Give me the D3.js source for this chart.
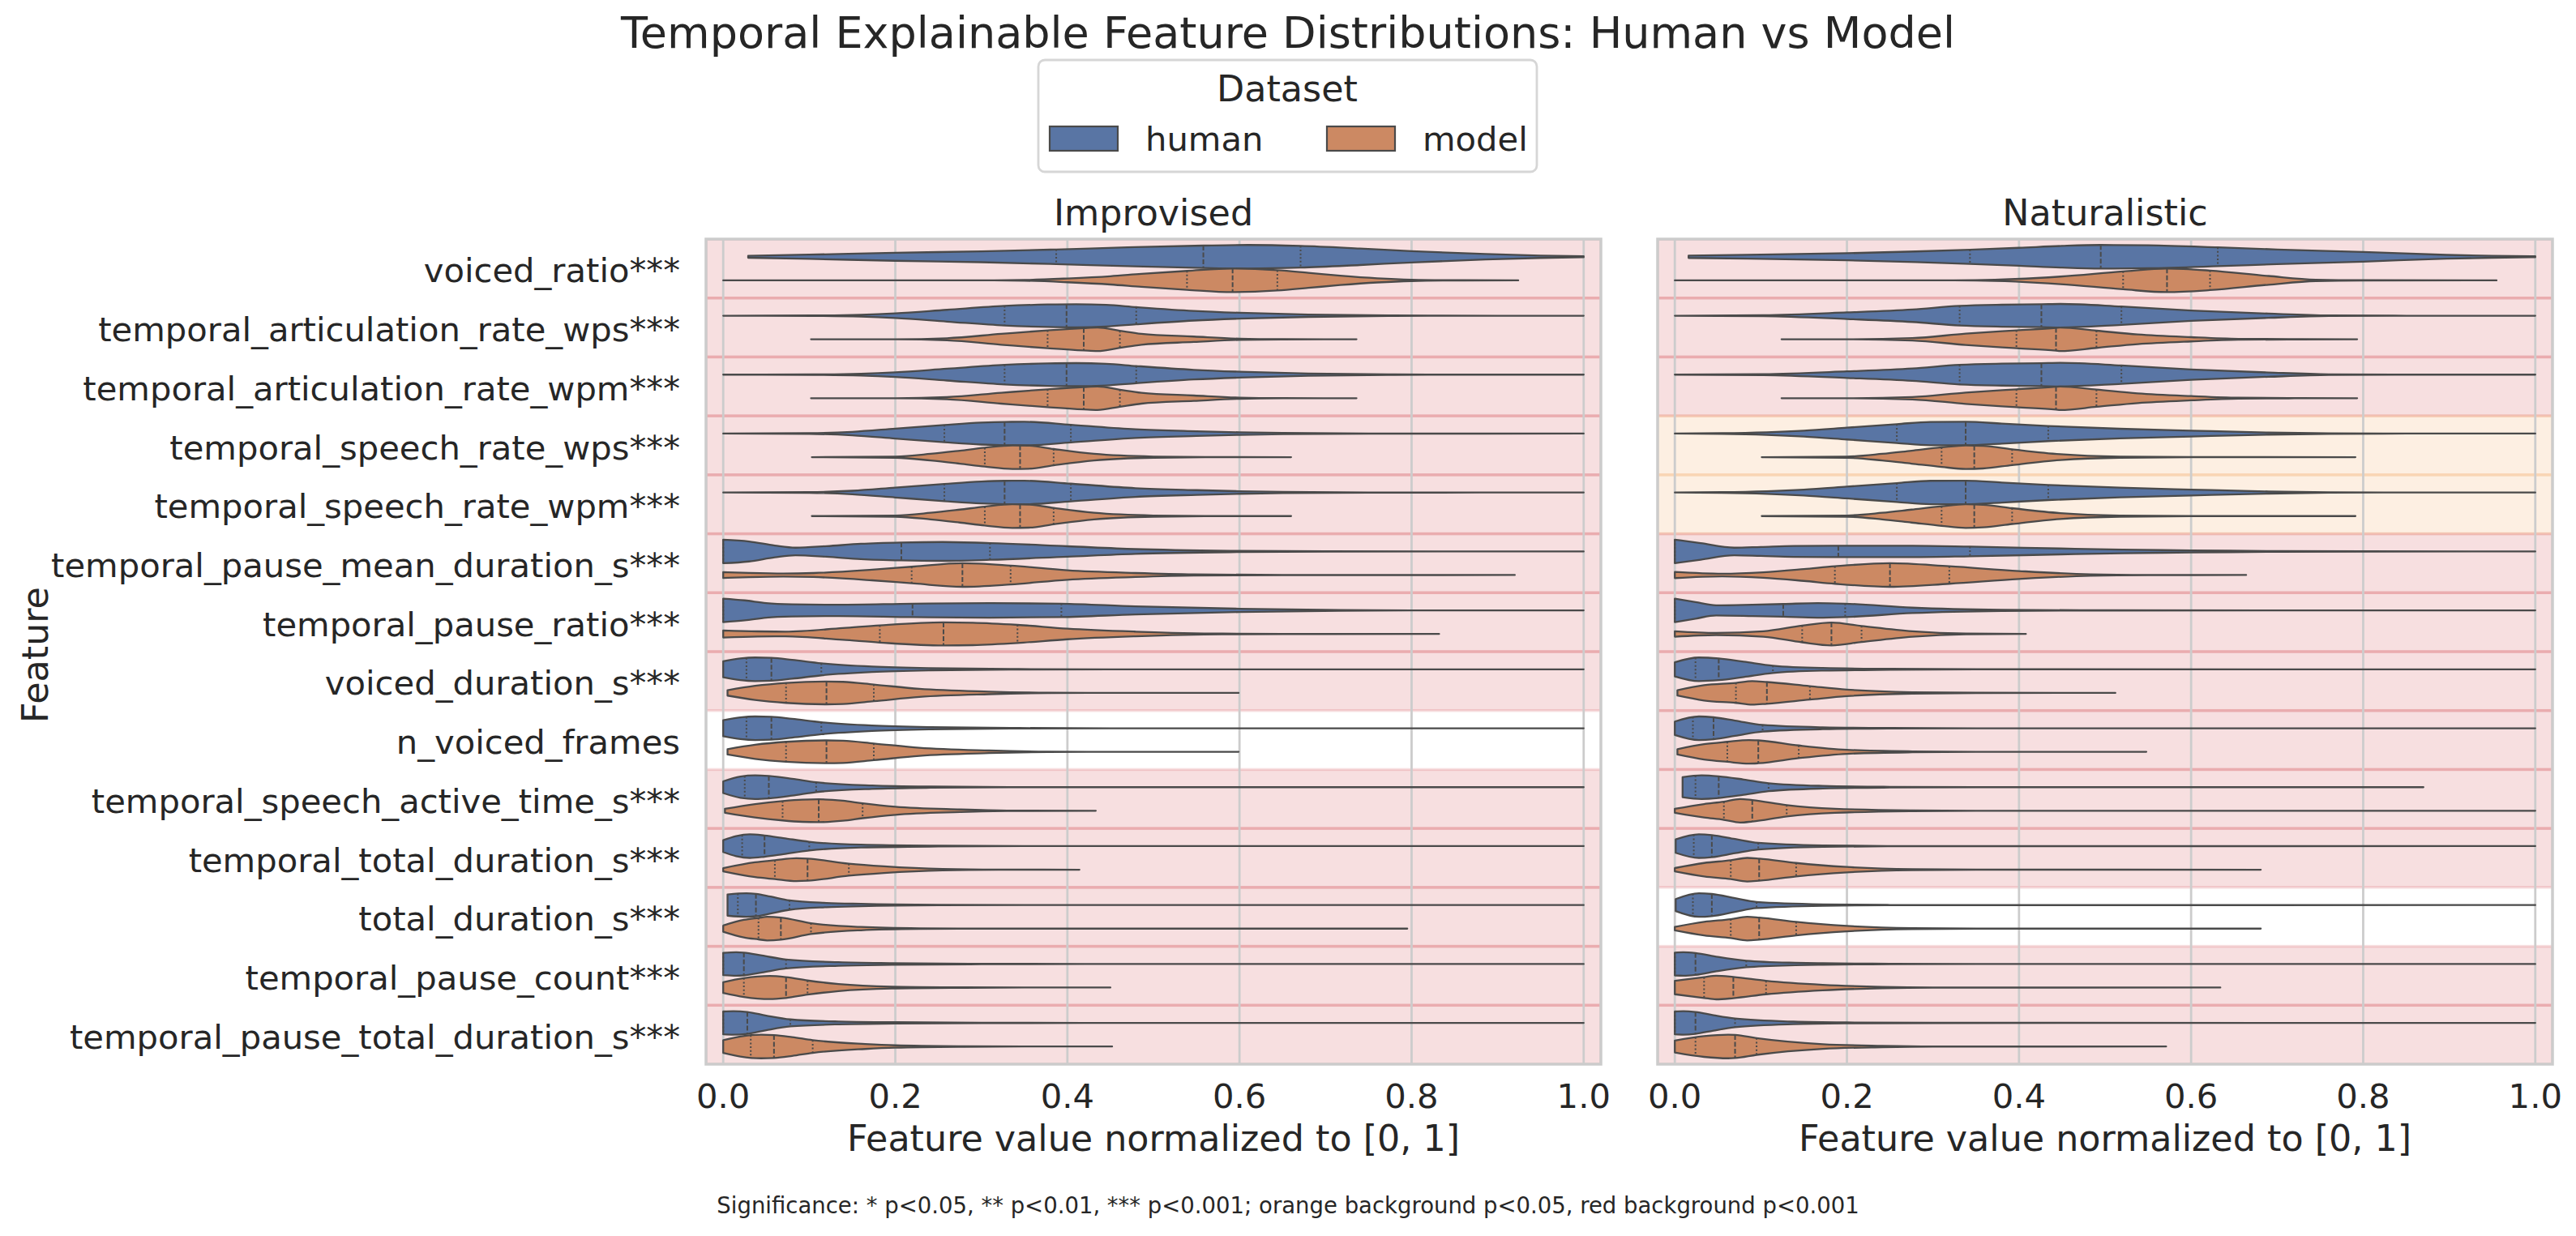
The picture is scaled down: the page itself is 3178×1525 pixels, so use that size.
<!DOCTYPE html>
<html>
<head>
<meta charset="utf-8">
<script src="https://cdn.jsdelivr.net/npm/d3@7"></script>
<style>
  body { margin: 0; background: #fff; }
  svg { display: block; font-family: "DejaVu Sans", sans-serif; }
</style>
</head>
<body>
<div id="chart"></div>
<script>
// ---- data ----
var features = ["voiced_ratio***", "temporal_articulation_rate_wps***", "temporal_articulation_rate_wpm***",
    "temporal_speech_rate_wps***", "temporal_speech_rate_wpm***", "temporal_pause_mean_duration_s***",
    "temporal_pause_ratio***", "voiced_duration_s***", "n_voiced_frames", "temporal_speech_active_time_s***",
    "temporal_total_duration_s***", "total_duration_s***", "temporal_pause_count***", "temporal_pause_total_duration_s***"];
var panelNames = ["Improvised", "Naturalistic"];
var datasets = ["human", "model"];
var xTicks = [0, 0.2, 0.4, 0.6, 0.8, 1.0];
// background significance level per feature: "red" p<0.001, "orange" p<0.05, "none"
var sigImprovised = ["red", "red", "red", "red", "red", "red", "red", "red", "none", "red", "red", "red", "red", "red"];
var sigNaturalistic = ["red", "red", "red", "orange", "orange", "red", "red", "red", "red", "red", "red", "none", "red", "red"];

// violin outlines: [value, relative density width] from min to max; quartiles [q1, median, q3]
var impHumanShape = [
    [[0.029,0.08],[0.1,0.18],[0.2,0.34],[0.3,0.46],[0.387,0.62],[0.47,0.8],[0.558,0.95],[0.61,1.0],[0.671,0.92],[0.74,0.7],[0.8,0.48],[0.886,0.23],[0.95,0.1],[1.0,0.04]],
    [[0,0],[0.105,0.02],[0.16,0.08],[0.2,0.2],[0.26,0.5],[0.327,0.83],[0.377,0.95],[0.41,0.98],[0.445,0.92],[0.48,0.73],[0.547,0.41],[0.6,0.25],[0.68,0.1],[0.78,0.02],[0.9,0],[1.0,0]],
    [[0,0],[0.105,0.02],[0.16,0.08],[0.2,0.2],[0.26,0.5],[0.327,0.83],[0.377,0.95],[0.41,0.98],[0.445,0.92],[0.48,0.73],[0.547,0.41],[0.6,0.25],[0.68,0.1],[0.78,0.02],[0.9,0],[1.0,0]],
    [[0,0],[0.1,0.03],[0.15,0.15],[0.2,0.42],[0.257,0.73],[0.3,0.93],[0.327,0.99],[0.35,1.0],[0.404,0.75],[0.479,0.37],[0.55,0.2],[0.6,0.11],[0.65,0.05],[0.75,0.01],[1.0,0]],
    [[0,0],[0.1,0.03],[0.15,0.15],[0.2,0.42],[0.257,0.73],[0.3,0.93],[0.327,0.99],[0.35,1.0],[0.404,0.75],[0.479,0.37],[0.55,0.2],[0.6,0.11],[0.65,0.05],[0.75,0.01],[1.0,0]],
    [[0,1.0],[0.03,0.85],[0.06,0.5],[0.084,0.32],[0.12,0.45],[0.16,0.65],[0.207,0.76],[0.255,0.8],[0.31,0.71],[0.4,0.44],[0.479,0.2],[0.6,0.05],[0.7,0.01],[1.0,0]],
    [[0,1.0],[0.025,0.85],[0.05,0.62],[0.08,0.52],[0.134,0.48],[0.22,0.57],[0.31,0.62],[0.393,0.57],[0.479,0.34],[0.6,0.14],[0.717,0.03],[0.8,0.005],[1.0,0]],
    [[0,0.68],[0.02,0.92],[0.037,1.0],[0.056,0.97],[0.08,0.8],[0.114,0.51],[0.173,0.23],[0.241,0.09],[0.343,0.02],[0.45,0],[1.0,0]],
    [[0,0.68],[0.02,0.92],[0.037,1.0],[0.056,0.97],[0.08,0.8],[0.114,0.51],[0.173,0.23],[0.241,0.09],[0.343,0.02],[0.45,0],[1.0,0]],
    [[0,0.5],[0.02,0.9],[0.037,1.0],[0.053,0.95],[0.08,0.72],[0.108,0.42],[0.173,0.14],[0.241,0.05],[0.35,0.01],[0.45,0],[1.0,0]],
    [[0,0.5],[0.015,0.85],[0.031,1.0],[0.048,0.9],[0.07,0.68],[0.1,0.37],[0.16,0.12],[0.25,0.03],[0.35,0],[1.0,0]],
    [[0.005,0.9],[0.027,1.0],[0.038,0.95],[0.055,0.72],[0.077,0.4],[0.12,0.18],[0.16,0.1],[0.25,0.02],[0.35,0],[1.0,0]],
    [[0,0.95],[0.015,1.0],[0.024,0.97],[0.045,0.72],[0.073,0.38],[0.134,0.15],[0.196,0.07],[0.3,0.02],[0.45,0],[1.0,0]],
    [[0,0.97],[0.012,1.0],[0.028,0.93],[0.05,0.62],[0.078,0.3],[0.134,0.12],[0.2,0.06],[0.3,0.02],[0.45,0],[1.0,0]]
];
var impHumanQuart = [[0.387,0.558,0.671],[0.327,0.399,0.48],[0.327,0.399,0.48],[0.257,0.327,0.404],[0.257,0.327,0.404],
    [0,0.207,0.31],[0,0.22,0.393],[0.027,0.056,0.114],[0.027,0.056,0.114],[0.025,0.053,0.108],[0.022,0.048,0.1],
    [0.017,0.038,0.077],[0,0.024,0.073],[0,0.028,0.078]];

var impModelShape = [
    [[0,0],[0.3,0],[0.35,0.03],[0.4,0.16],[0.45,0.35],[0.486,0.55],[0.539,0.8],[0.592,1.0],[0.644,0.86],[0.68,0.64],[0.717,0.4],[0.76,0.18],[0.8,0.06],[0.86,0.01],[0.924,0]],
    [[0.102,0],[0.2,0],[0.26,0.09],[0.323,0.46],[0.377,0.76],[0.419,0.95],[0.435,1.0],[0.461,0.72],[0.486,0.46],[0.547,0.23],[0.6,0.05],[0.65,0.01],[0.736,0]],
    [[0.102,0],[0.2,0],[0.26,0.09],[0.323,0.46],[0.377,0.76],[0.419,0.95],[0.435,1.0],[0.461,0.72],[0.486,0.46],[0.547,0.23],[0.6,0.05],[0.65,0.01],[0.736,0]],
    [[0.103,0],[0.2,0.05],[0.241,0.28],[0.275,0.55],[0.304,0.8],[0.336,1.0],[0.355,0.98],[0.384,0.69],[0.431,0.28],[0.5,0.05],[0.56,0.01],[0.66,0]],
    [[0.103,0],[0.2,0.05],[0.241,0.28],[0.275,0.55],[0.304,0.8],[0.336,1.0],[0.355,0.98],[0.384,0.69],[0.431,0.28],[0.5,0.05],[0.56,0.01],[0.66,0]],
    [[0,0.25],[0.03,0.18],[0.07,0.13],[0.105,0.17],[0.173,0.45],[0.222,0.72],[0.278,1.0],[0.334,0.8],[0.4,0.4],[0.479,0.17],[0.547,0.05],[0.65,0.01],[0.92,0]],
    [[0,0.3],[0.04,0.22],[0.072,0.2],[0.139,0.5],[0.182,0.73],[0.256,0.98],[0.29,0.95],[0.342,0.77],[0.4,0.45],[0.479,0.2],[0.58,0.03],[0.7,0.005],[0.832,0]],
    [[0.005,0.23],[0.037,0.6],[0.073,0.85],[0.12,0.97],[0.139,0.94],[0.175,0.71],[0.228,0.34],[0.309,0.11],[0.377,0.02],[0.45,0],[0.599,0]],
    [[0.005,0.23],[0.037,0.6],[0.073,0.85],[0.12,0.97],[0.139,0.94],[0.175,0.71],[0.228,0.34],[0.309,0.11],[0.377,0.02],[0.45,0],[0.599,0]],
    [[0.002,0.17],[0.037,0.57],[0.069,0.82],[0.092,0.94],[0.111,0.97],[0.139,0.85],[0.162,0.63],[0.2,0.34],[0.275,0.11],[0.33,0.02],[0.433,0]],
    [[0,0.14],[0.037,0.63],[0.06,0.8],[0.085,0.97],[0.098,0.94],[0.146,0.51],[0.187,0.28],[0.255,0.06],[0.32,0.01],[0.414,0]],
    [[0,0.26],[0.024,0.74],[0.041,0.91],[0.051,1.0],[0.067,0.94],[0.102,0.46],[0.16,0.14],[0.228,0.03],[0.3,0.005],[0.795,0]],
    [[0,0.46],[0.024,0.8],[0.054,0.98],[0.073,0.88],[0.098,0.6],[0.134,0.3],[0.196,0.08],[0.28,0.02],[0.35,0],[0.45,0]],
    [[0,0.54],[0.02,0.85],[0.044,1.0],[0.059,0.97],[0.08,0.8],[0.104,0.54],[0.165,0.21],[0.2,0.1],[0.28,0.02],[0.35,0],[0.452,0]]
];
var impModelQuart = [[0.539,0.592,0.644],[0.377,0.419,0.461],[0.377,0.419,0.461],[0.304,0.345,0.384],[0.304,0.345,0.384],
    [0.219,0.278,0.334],[0.182,0.256,0.342],[0.073,0.12,0.175],[0.073,0.12,0.175],[0.069,0.111,0.162],[0.06,0.098,0.146],
    [0.041,0.067,0.102],[0.024,0.073,0.098],[0.032,0.059,0.104]];

var natHumanShape = [
    [[0.016,0.1],[0.1,0.18],[0.2,0.3],[0.28,0.45],[0.343,0.6],[0.4,0.76],[0.45,0.92],[0.495,1.0],[0.55,0.97],[0.631,0.8],[0.7,0.62],[0.8,0.41],[0.897,0.16],[0.95,0.08],[1.0,0.04]],
    [[0,0],[0.103,0.04],[0.2,0.28],[0.276,0.53],[0.331,0.83],[0.38,0.93],[0.426,0.97],[0.448,1.0],[0.519,0.78],[0.6,0.44],[0.69,0.18],[0.76,0.03],[0.85,0],[1.0,0]],
    [[0,0],[0.103,0.04],[0.2,0.28],[0.276,0.53],[0.331,0.83],[0.38,0.93],[0.426,0.97],[0.448,1.0],[0.519,0.78],[0.6,0.44],[0.69,0.18],[0.76,0.03],[0.85,0],[1.0,0]],
    [[0,0],[0.055,0.03],[0.15,0.25],[0.2,0.5],[0.258,0.8],[0.297,0.99],[0.338,1.0],[0.38,0.85],[0.434,0.64],[0.517,0.41],[0.6,0.25],[0.69,0.09],[0.76,0.02],[0.85,0],[1.0,0]],
    [[0,0],[0.055,0.03],[0.15,0.25],[0.2,0.5],[0.258,0.8],[0.297,0.99],[0.338,1.0],[0.38,0.85],[0.434,0.64],[0.517,0.41],[0.6,0.25],[0.69,0.09],[0.76,0.02],[0.85,0],[1.0,0]],
    [[0,1.0],[0.03,0.7],[0.069,0.32],[0.1,0.38],[0.138,0.46],[0.19,0.48],[0.276,0.48],[0.343,0.41],[0.448,0.25],[0.52,0.15],[0.6,0.09],[0.7,0.03],[0.8,0.01],[1.0,0]],
    [[0,1.0],[0.024,0.7],[0.048,0.43],[0.09,0.48],[0.126,0.54],[0.166,0.62],[0.198,0.57],[0.276,0.23],[0.38,0.05],[0.5,0.01],[1.0,0]],
    [[0,0.6],[0.028,1.0],[0.051,0.92],[0.08,0.65],[0.114,0.31],[0.172,0.11],[0.25,0.04],[0.35,0.005],[1.0,0]],
    [[0,0.57],[0.028,1.0],[0.045,0.93],[0.07,0.65],[0.102,0.28],[0.172,0.08],[0.25,0.02],[0.35,0],[1.0,0]],
    [[0.009,0.85],[0.031,1.0],[0.051,0.92],[0.08,0.65],[0.109,0.34],[0.172,0.11],[0.25,0.03],[0.35,0],[0.87,0]],
    [[0.001,0.57],[0.028,1.0],[0.043,0.94],[0.07,0.6],[0.097,0.28],[0.172,0.06],[0.25,0.01],[1.0,0]],
    [[0.001,0.51],[0.028,1.0],[0.043,0.94],[0.07,0.58],[0.095,0.26],[0.172,0.06],[0.25,0.01],[1.0,0]],
    [[0,0.97],[0.01,1.0],[0.024,0.93],[0.05,0.6],[0.083,0.28],[0.14,0.1],[0.172,0.06],[0.25,0.02],[0.35,0],[1.0,0]],
    [[0,0.97],[0.01,1.0],[0.024,0.93],[0.045,0.65],[0.07,0.37],[0.138,0.11],[0.2,0.04],[0.3,0.01],[1.0,0]]
];
var natHumanQuart = [[0.343,0.495,0.631],[0.331,0.426,0.519],[0.331,0.426,0.519],[0.258,0.338,0.434],[0.258,0.338,0.434],
    [0,0.19,0.343],[0,0.126,0.198],[0.024,0.051,0.114],[0.021,0.045,0.102],[0.024,0.051,0.109],[0.022,0.043,0.097],
    [0.021,0.043,0.095],[0,0.024,0.083],[0,0.024,0.07]];

var natModelShape = [
    [[0,0],[0.3,0],[0.35,0.02],[0.448,0.32],[0.521,0.76],[0.572,1.0],[0.622,0.83],[0.69,0.37],[0.745,0.06],[0.8,0.01],[0.955,0]],
    [[0.124,0],[0.2,0],[0.276,0.1],[0.338,0.48],[0.397,0.76],[0.443,0.97],[0.448,1.0],[0.49,0.73],[0.538,0.41],[0.6,0.18],[0.655,0.04],[0.72,0.01],[0.793,0]],
    [[0.124,0],[0.2,0],[0.276,0.1],[0.338,0.48],[0.397,0.76],[0.443,0.97],[0.448,1.0],[0.49,0.73],[0.538,0.41],[0.6,0.18],[0.655,0.04],[0.72,0.01],[0.793,0]],
    [[0.101,0],[0.2,0.05],[0.241,0.28],[0.275,0.55],[0.31,0.83],[0.338,1.0],[0.358,0.96],[0.392,0.67],[0.448,0.25],[0.517,0.05],[0.6,0.01],[0.791,0]],
    [[0.101,0],[0.2,0.05],[0.241,0.28],[0.275,0.55],[0.31,0.83],[0.338,1.0],[0.358,0.96],[0.392,0.67],[0.448,0.25],[0.517,0.05],[0.6,0.01],[0.791,0]],
    [[0,0.26],[0.055,0.11],[0.103,0.23],[0.15,0.5],[0.186,0.74],[0.25,1.0],[0.319,0.74],[0.4,0.34],[0.483,0.06],[0.55,0.01],[0.664,0]],
    [[0,0.23],[0.048,0.09],[0.103,0.23],[0.148,0.71],[0.182,0.97],[0.217,0.68],[0.276,0.23],[0.338,0.03],[0.408,0]],
    [[0.003,0.23],[0.034,0.65],[0.071,0.85],[0.09,1.0],[0.107,0.92],[0.157,0.57],[0.2,0.28],[0.276,0.06],[0.35,0.01],[0.512,0]],
    [[0.003,0.23],[0.034,0.65],[0.061,0.85],[0.086,1.0],[0.097,0.97],[0.144,0.54],[0.2,0.17],[0.276,0.04],[0.35,0.005],[0.548,0]],
    [[0,0.17],[0.034,0.57],[0.057,0.77],[0.076,1.0],[0.09,0.91],[0.13,0.48],[0.186,0.17],[0.276,0.03],[0.35,0],[1.0,0]],
    [[0,0.14],[0.034,0.57],[0.065,0.8],[0.084,1.0],[0.098,0.94],[0.141,0.57],[0.2,0.23],[0.276,0.04],[0.35,0.005],[0.681,0]],
    [[0,0.14],[0.034,0.57],[0.065,0.8],[0.084,1.0],[0.098,0.94],[0.141,0.57],[0.2,0.23],[0.276,0.04],[0.35,0.005],[0.681,0]],
    [[0,0.57],[0.034,0.88],[0.048,1.0],[0.068,0.9],[0.106,0.57],[0.172,0.23],[0.241,0.06],[0.3,0.01],[0.634,0]],
    [[0,0.51],[0.034,0.88],[0.062,1.0],[0.07,0.98],[0.095,0.71],[0.172,0.2],[0.241,0.06],[0.3,0.01],[0.571,0]]
];
var natModelQuart = [[0.521,0.572,0.622],[0.397,0.443,0.49],[0.397,0.443,0.49],[0.31,0.348,0.392],[0.31,0.348,0.392],
    [0.186,0.25,0.319],[0.148,0.182,0.217],[0.071,0.107,0.157],[0.061,0.097,0.144],[0.057,0.09,0.13],[0.065,0.098,0.141],
    [0.065,0.098,0.141],[0.034,0.068,0.106],[0.024,0.07,0.095]];

// ---- layout ----
var W = 3178, H = 1525;
var panelX = [871, 2045], panelW = 1104, panelTop = 295, panelBottom = 1313;
var textColor = "#262626";
var colors = { human: "#5975a4", model: "#cc8963" };
var edgeColor = "#4a4a4a";
var bandColors = { red: "rgb(202,42,48)", orange: "rgb(242,148,62)" };

var svg = d3.select("#chart").append("svg")
    .attr("width", W).attr("height", H)
    .attr("viewBox", `0 0 ${W} ${H}`);
svg.append("rect").attr("width", W).attr("height", H).attr("fill", "#fff");

var y = d3.scaleBand().domain(d3.range(features.length)).range([panelTop, panelBottom]).padding(0);
var bw = y.bandwidth();
var halfW = bw * 0.2;

// y position of the violin's upper edge at a given pixel x (reads the drawn curve)
function edgeAt(node, px) {
    var L = node.getTotalLength(), lo = 0, hi = L;
    for (var k = 0; k < 40; k++) {
        var mid = (lo + hi) / 2;
        if (node.getPointAtLength(mid).x < px) lo = mid; else hi = mid;
    }
    return node.getPointAtLength((lo + hi) / 2).y;
}

var panelData = [
    { sig: sigImprovised, shapes: { human: impHumanShape, model: impModelShape }, quarts: { human: impHumanQuart, model: impModelQuart } },
    { sig: sigNaturalistic, shapes: { human: natHumanShape, model: natModelShape }, quarts: { human: natHumanQuart, model: natModelQuart } }
];

panelData.forEach(function (pd, p) {
    var x = d3.scaleLinear().domain([-0.02, 1.02]).range([panelX[p], panelX[p] + panelW]);
    var g = svg.append("g");
    var clipId = "clip" + p;
    g.append("clipPath").attr("id", clipId).append("rect")
        .attr("x", panelX[p]).attr("y", panelTop).attr("width", panelW).attr("height", panelBottom - panelTop);

    // significance bands
    var bands = g.append("g").attr("clip-path", `url(#${clipId})`);
    features.forEach(function (f, i) {
        var s = pd.sig[i];
        if (s === "none") return;
        bands.append("rect")
            .attr("x", panelX[p]).attr("y", y(i))
            .attr("width", panelW).attr("height", bw)
            .attr("fill", bandColors[s]).attr("fill-opacity", 0.15)
            .attr("stroke", bandColors[s]).attr("stroke-opacity", 0.15)
            .attr("stroke-width", 3.5);
    });

    // vertical grid
    g.append("g").selectAll("line").data(xTicks).enter().append("line")
        .attr("x1", d => x(d)).attr("x2", d => x(d))
        .attr("y1", panelTop).attr("y2", panelBottom)
        .attr("stroke", "#cccccc").attr("stroke-width", 2.8);

    // violins
    var vg = g.append("g");
    features.forEach(function (f, i) {
        datasets.forEach(function (ds, j) {
            var c = y(i) + bw / 2 + (j === 0 ? -1 : 1) * halfW;
            var pts = pd.shapes[ds][i];
            var area = d3.area()
                .x(d => x(d[0]))
                .y0(d => c + d[1] * halfW)
                .y1(d => c - d[1] * halfW)
                .curve(d3.curveMonotoneX);
            vg.append("path").attr("d", area(pts))
                .attr("fill", colors[ds])
                .attr("stroke", edgeColor).attr("stroke-width", 2.3)
                .attr("stroke-linejoin", "round");

            var top = vg.append("path")
                .attr("d", d3.line().x(d => x(d[0])).y(d => c - d[1] * halfW).curve(d3.curveMonotoneX)(pts))
                .attr("fill", "none").attr("stroke", "none");
            pd.quarts[ds][i].forEach(function (q, k) {
                var px = x(q);
                var yt = edgeAt(top.node(), px);
                if (c - yt < 1) return;
                vg.append("line")
                    .attr("x1", px).attr("x2", px)
                    .attr("y1", yt).attr("y2", 2 * c - yt)
                    .attr("stroke", edgeColor).attr("stroke-width", 2)
                    .attr("stroke-dasharray", k === 1 ? "6,2.5" : "2,2.6");
            });
            top.remove();
        });
    });

    // frame
    g.append("rect")
        .attr("x", panelX[p]).attr("y", panelTop)
        .attr("width", panelW).attr("height", panelBottom - panelTop)
        .attr("fill", "none").attr("stroke", "#cccccc").attr("stroke-width", 3.5);

    // x tick labels
    g.append("g").selectAll("text").data(xTicks).enter().append("text")
        .attr("x", d => x(d)).attr("y", 1367)
        .attr("text-anchor", "middle")
        .attr("font-size", 41.7).attr("fill", textColor)
        .text(d => d3.format(".1f")(d));

    // x axis label
    g.append("text")
        .attr("x", panelX[p] + panelW / 2).attr("y", 1420)
        .attr("text-anchor", "middle").attr("font-size", 44.4).attr("fill", textColor)
        .text("Feature value normalized to [0, 1]");

    // panel title
    g.append("text")
        .attr("x", panelX[p] + panelW / 2).attr("y", 278)
        .attr("text-anchor", "middle").attr("font-size", 44.4).attr("fill", textColor)
        .text(panelNames[p]);
});

// y tick labels (shared axis, left panel only)
svg.append("g").selectAll("text").data(features).enter().append("text")
    .attr("x", 839).attr("y", (d, i) => y(i) + bw / 2 + 17)
    .attr("text-anchor", "end").attr("font-size", 41.7).attr("fill", textColor)
    .text(d => d);

svg.append("text")
    .attr("transform", "translate(59,808) rotate(-90)")
    .attr("text-anchor", "middle").attr("font-size", 44.4).attr("fill", textColor)
    .text("Feature");

// title
svg.append("text")
    .attr("x", W / 2).attr("y", 59)
    .attr("text-anchor", "middle").attr("font-size", 54).attr("fill", textColor)
    .text("Temporal Explainable Feature Distributions: Human vs Model");

// legend
var legend = svg.append("g");
legend.append("rect")
    .attr("x", 1281).attr("y", 74).attr("width", 615).attr("height", 138)
    .attr("rx", 8).attr("fill", "#fff").attr("stroke", "#d6d6d6").attr("stroke-width", 2.8);
legend.append("text")
    .attr("x", 1588).attr("y", 125).attr("text-anchor", "middle")
    .attr("font-size", 44.4).attr("fill", textColor).text("Dataset");
var legX = [1295, 1637];
datasets.forEach(function (ds, j) {
    legend.append("rect")
        .attr("x", legX[j]).attr("y", 156).attr("width", 84).attr("height", 30)
        .attr("fill", colors[ds]).attr("stroke", edgeColor).attr("stroke-width", 2.2);
    legend.append("text")
        .attr("x", legX[j] + 118).attr("y", 186)
        .attr("font-size", 41.7).attr("fill", textColor).text(ds);
});

// footnote
svg.append("text")
    .attr("x", W / 2).attr("y", 1497)
    .attr("text-anchor", "middle").attr("font-size", 27.5).attr("fill", textColor)
    .text("Significance: * p<0.05, ** p<0.01, *** p<0.001; orange background p<0.05, red background p<0.001");
</script>
</body>
</html>
